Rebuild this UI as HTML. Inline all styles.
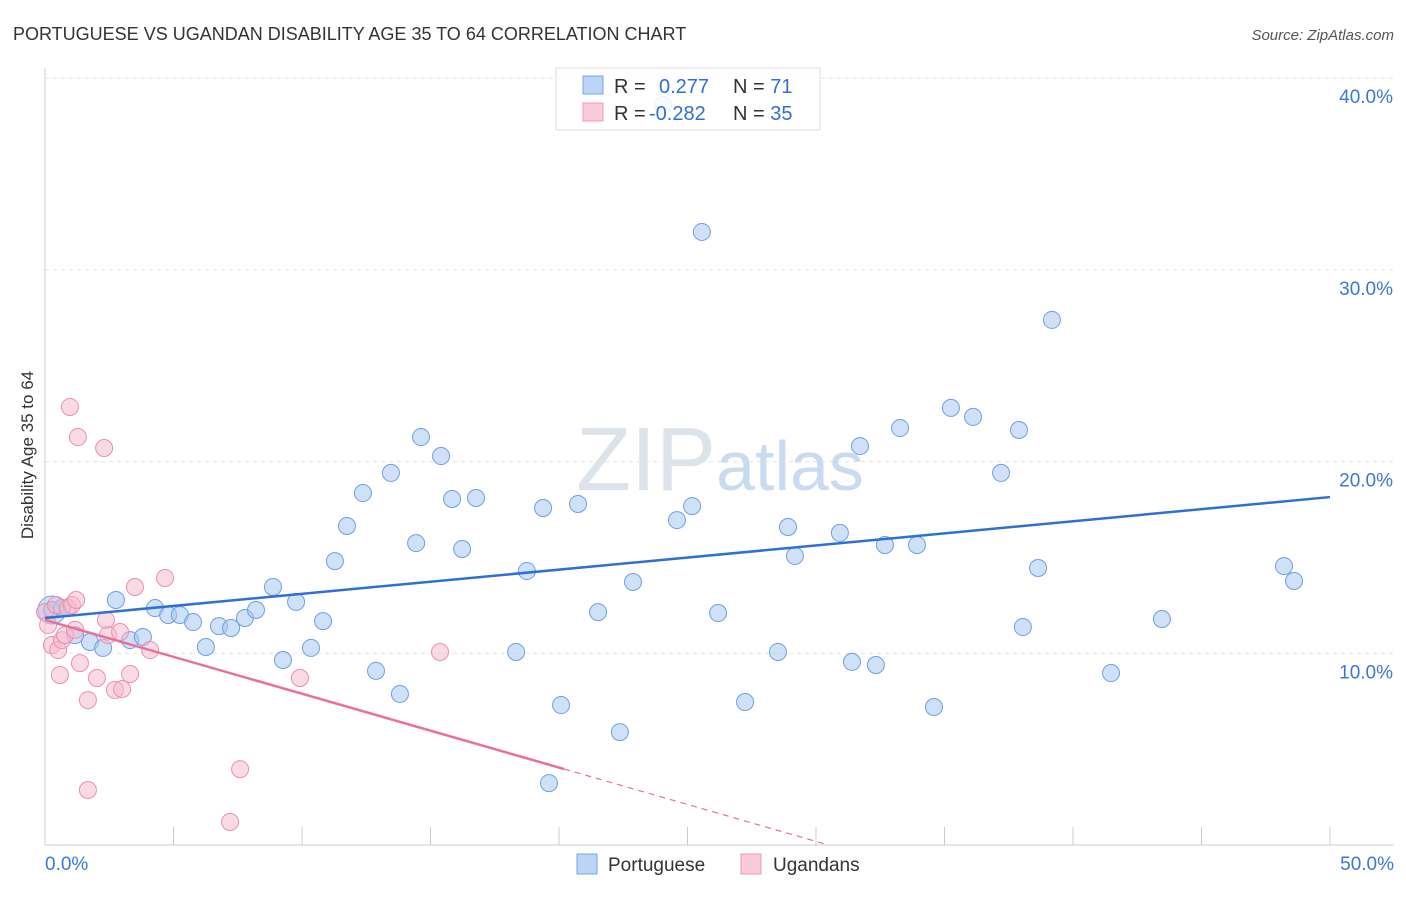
<!DOCTYPE html>
<html><head><meta charset="utf-8">
<style>
body{margin:0;background:#fff;font-family:"Liberation Sans",sans-serif;}
svg text{font-family:"Liberation Sans",sans-serif;}
</style></head>
<body>
<svg id="chart" width="1406" height="892" viewBox="0 0 1406 892">
<text x="13" y="40" font-size="18" fill="#333">PORTUGUESE VS UGANDAN DISABILITY AGE 35 TO 64 CORRELATION CHART</text>
<text x="1394" y="40" font-size="15" fill="#555" font-style="italic" text-anchor="end">Source: ZipAtlas.com</text>
<text x="0" y="0" font-size="17" fill="#333" text-anchor="middle" transform="translate(33,455) rotate(-90)">Disability Age 35 to 64</text>
<text x="720" y="490" font-size="90" fill="#dde3ea" text-anchor="middle" font-family="Liberation Serif">ZIP<tspan fill="#c9dbf1" font-family="Liberation Sans" font-size="70">atlas</tspan></text>
<g id="grid"></g>
<g id="axes"></g>
<g id="pts"></g>
<g id="lines"></g>
<g>
<rect x="556" y="68" width="264" height="62" fill="rgba(255,255,255,0.85)" stroke="#ddd"/>
<rect x="583" y="76" width="20" height="18" fill="#bcd4f5" stroke="#7aa5e3"/>
<rect x="583" y="103" width="20" height="18" fill="#f9cad8" stroke="#ee9bb6"/>
<text x="614" y="93" font-size="20" fill="#333">R = <tspan fill="#2f6fd6" x="659">0.277</tspan><tspan fill="#333" x="733">N = </tspan><tspan fill="#2f6fd6">71</tspan></text>
<text x="614" y="120" font-size="20" fill="#333">R = <tspan fill="#2f6fd6" x="649">-0.282</tspan><tspan fill="#333" x="733">N = </tspan><tspan fill="#2f6fd6">35</tspan></text>
</g>
<g>
<rect x="577" y="854" width="20" height="20" fill="#bcd4f5" stroke="#7aa5e3"/>
<text x="608" y="871" font-size="19" fill="#333">Portuguese</text>
<rect x="741" y="854" width="20" height="20" fill="#f9cad8" stroke="#ee9bb6"/>
<text x="773" y="871" font-size="19" fill="#333">Ugandans</text>
</g>
</svg>
<script>
const yTicks=[10,20,30,40];
const yTickLabels=["10.0%","20.0%","30.0%","40.0%"];
const xEndLabels=["0.0%","50.0%"];
const portX=[0.27,0.66,1.17,1.75,2.26,2.76,3.31,3.81,4.28,4.79,5.25,5.76,6.26,6.77,7.24,7.78,8.21,8.87,9.26,9.77,10.35,10.82,11.28,11.75,12.37,12.88,13.46,13.81,14.44,14.63,15.41,15.84,16.23,16.77,18.33,18.75,19.38,20.08,20.74,21.52,22.37,22.88,24.05,24.59,25.18,25.56,26.19,27.24,28.52,28.91,29.18,30.93,31.4,31.71,32.33,32.68,33.27,33.93,34.59,35.25,36.11,37.2,37.9,38.05,38.64,39.18,41.48,43.46,48.21,48.6,19.61];
const portY=[12.26,12.36,10.95,10.59,10.28,12.78,10.69,10.85,12.36,12.0,12.0,11.63,10.33,11.42,11.32,11.84,12.26,13.46,9.65,12.68,10.28,11.68,14.81,16.64,18.36,9.08,19.41,7.88,15.75,21.28,20.29,18.05,15.44,18.1,10.07,14.29,17.58,7.3,17.79,12.15,5.89,13.72,38.6,16.95,17.68,31.98,12.1,7.46,10.07,16.59,15.08,16.28,9.55,20.81,9.39,15.65,21.75,15.65,7.2,22.8,22.33,19.41,21.65,11.37,14.45,27.39,8.97,11.79,14.55,13.77,3.23];
const ugX=[0,0.12,0.27,0.43,0.51,0.58,0.66,0.78,0.89,0.97,1.05,1.17,1.28,1.36,1.67,1.67,2.02,2.3,2.37,2.45,2.72,2.92,3.0,3.31,3.5,4.09,4.67,7.2,7.59,9.92,15.37,1.21];
const ugY=[12.15,11.48,10.43,12.52,10.17,8.87,10.69,10.95,12.36,22.85,12.52,11.22,21.28,9.49,7.56,2.87,8.71,20.71,11.74,10.95,8.09,11.11,8.14,8.92,13.46,10.17,13.93,1.2,3.96,8.71,10.07,12.78];
const portTrend=[11.84,18.15];
const ugTrend=[11.74,-0.385];
const NS="http://www.w3.org/2000/svg";
const X0=45,X1=1330,Y0=845,YPER=19.17;
function sx(v){return X0+(X1-X0)*v/50;}
function sy(v){return Y0-v*YPER;}
function mk(tag,attrs,parent){const e=document.createElementNS(NS,tag);for(const k in attrs)e.setAttribute(k,attrs[k]);parent.appendChild(e);return e;}
const grid=document.getElementById('grid'),axes=document.getElementById('axes');
yTicks.forEach((t,i)=>{
 const l=mk('line',{x1:X0,x2:1394,y1:sy(t),y2:sy(t),stroke:'#e3e3e3','stroke-dasharray':'4,4'},grid);
 
 
 const tx=mk('text',{x:1393,y:sy(t)+25,'font-size':19,fill:'#3a78d4','text-anchor':'end'},axes);
 tx.textContent=yTickLabels[i];
 
 
});
const ya=mk('line',{x1:X0,x2:X0,y1:68,y2:Y0,stroke:'#ccc'},axes);


const xa=mk('line',{x1:X0,x2:1394,y1:Y0,y2:Y0,stroke:'#ccc'},axes);


for(let v=5;v<=50;v+=5){
 const tk=mk('line',{x1:sx(v),x2:sx(v),y1:827,y2:Y0,stroke:'#ccc'},axes);
 
 
}
const xl0=mk('text',{x:45,y:870,'font-size':19,fill:'#3a78d4'},axes);xl0.textContent=xEndLabels[0];


const xl1=mk('text',{x:1394,y:870,'font-size':19,fill:'#3a78d4','text-anchor':'end'},axes);xl1.textContent=xEndLabels[1];


const pts=document.getElementById('pts');
const big=mk('circle',{cx:sx(0.27),cy:sy(12.26),r:14,fill:'rgba(168,200,240,0.5)',stroke:'#7aa5e3'},pts);


portX.forEach((v,i)=>{
 const c=mk('circle',{cx:sx(v),cy:sy(portY[i]),r:8.5,fill:'rgba(168,200,240,0.55)',stroke:'#6f9fe0','stroke-width':1},pts);
 
 
});
ugX.forEach((v,i)=>{
 const c=mk('circle',{cx:sx(v),cy:sy(ugY[i]),r:8.5,fill:'rgba(245,184,203,0.5)',stroke:'#ec8fae','stroke-width':1},pts);
 
 
});
const lines=document.getElementById('lines');
const bl=mk('line',{x1:sx(0),y1:sy(portTrend[0]),x2:sx(50),y2:sy(portTrend[1]),stroke:'#2f6fd6','stroke-width':2.5},lines);


const xs=20.2,xz=-ugTrend[0]/ugTrend[1];
const pl=mk('line',{x1:sx(0),y1:sy(ugTrend[0]),x2:sx(xs),y2:sy(ugTrend[0]+ugTrend[1]*xs),stroke:'#e8709a','stroke-width':2.5},lines);


const pd=mk('line',{x1:sx(xs),y1:sy(ugTrend[0]+ugTrend[1]*xs),x2:sx(xz),y2:sy(0),stroke:'#e8709a','stroke-width':1.2,'stroke-dasharray':'6,5'},lines);


</script>
</body></html>
